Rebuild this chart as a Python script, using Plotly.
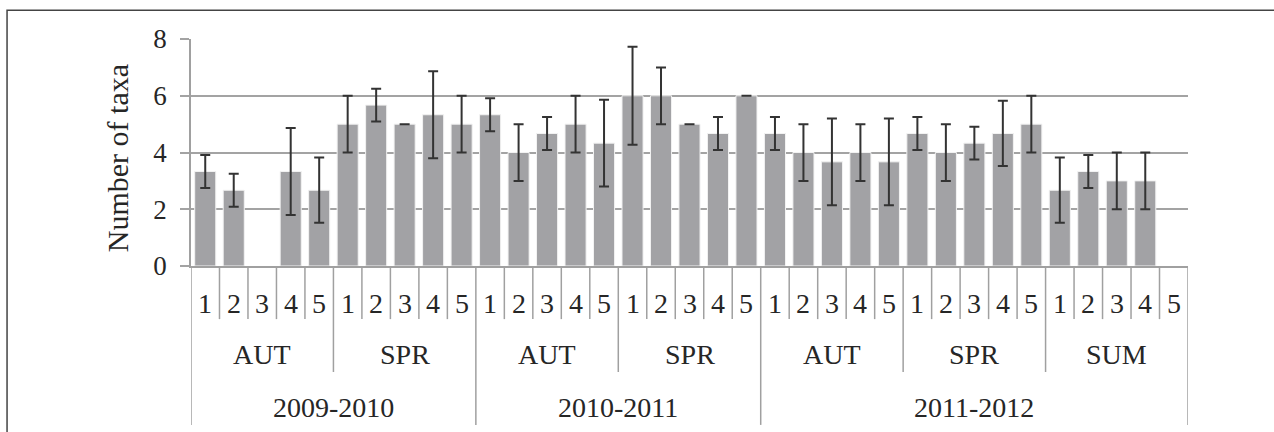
import plotly.graph_objects as go

# Category hierarchy: year -> season -> site
years = ["2009-2010", "2010-2011", "2011-2012"]
year_seasons = [["AUT", "SPR"], ["AUT", "SPR"], ["AUT", "SPR", "SUM"]]
sites = ["1", "2", "3", "4", "5"]

# Mean number of taxa per site (None = no sample)
aut_0910 = [3.33, 2.67, None, 3.33, 2.67]
spr_0910 = [5.0, 5.67, 5.0, 5.33, 5.0]
aut_1011 = [5.33, 4.0, 4.67, 5.0, 4.33]
spr_1011 = [6.0, 6.0, 5.0, 4.67, 6.0]
aut_1112 = [4.67, 4.0, 3.67, 4.0, 3.67]
spr_1112 = [4.67, 4.0, 4.33, 4.67, 5.0]
sum_1112 = [2.67, 3.33, 3.0, 3.0, None]

# Standard deviations
sd_aut_0910 = [0.58, 0.58, None, 1.53, 1.15]
sd_spr_0910 = [1.0, 0.58, 0.0, 1.53, 1.0]
sd_aut_1011 = [0.58, 1.0, 0.58, 1.0, 1.53]
sd_spr_1011 = [1.73, 1.0, 0.0, 0.58, 0.0]
sd_aut_1112 = [0.58, 1.0, 1.53, 1.0, 1.53]
sd_spr_1112 = [0.58, 1.0, 0.58, 1.15, 1.0]
sd_sum_1112 = [1.15, 0.58, 1.0, 1.0, None]

means = aut_0910 + spr_0910 + aut_1011 + spr_1011 + aut_1112 + spr_1112 + sum_1112
sds = (sd_aut_0910 + sd_spr_0910 + sd_aut_1011 + sd_spr_1011
       + sd_aut_1112 + sd_spr_1112 + sd_sum_1112)

n = len(means)
xs = list(range(n))

FONT = "Liberation Serif, Times New Roman, serif"
FS_X = 28
FS_YT = 27
FS_TITLE = 30
TXT = "#262626"
GRID = "#a3a3a3"
LINE = "#a0a0a0"

fig = go.Figure()
fig.add_trace(go.Bar(
    x=xs,
    y=means,
    marker=dict(color="#a2a2a5", line=dict(color="#f2f2f2", width=1)),
    error_y=dict(type="data", array=sds,
                 visible=True, color="#333333", thickness=2, width=5),
    width=0.74,
    hoverinfo="skip",
))

shapes = []
annotations = []

# hierarchical category axis drawn below the plot
lvl1_bottom = -0.234
lvl2_bottom = -0.467
lvl3_bottom = -0.700


def label(x, y, text):
    return dict(x=x, y=y, xref="x", yref="paper", text=text, showarrow=False,
                font=dict(family=FONT, size=FS_X, color=TXT),
                xanchor="center", yanchor="middle")


season_bounds = []
year_bounds = [0]
idx = 0
for yi, yname in enumerate(years):
    start_year = idx
    for s in year_seasons[yi]:
        start = idx
        for site in sites:
            annotations.append(label(idx, -0.165, site))
            idx += 1
        season_bounds.append(start)
        annotations.append(label((start + idx - 1) / 2, -0.392, s))
    year_bounds.append(idx)
    annotations.append(label((start_year + idx - 1) / 2, -0.622, yname))

for b in range(n + 1):
    if b in year_bounds:
        bottom = lvl3_bottom
    elif b in season_bounds:
        bottom = lvl2_bottom
    else:
        bottom = lvl1_bottom
    shapes.append(dict(type="line", xref="x", yref="paper",
                       x0=b - 0.5, x1=b - 0.5, y0=0, y1=bottom,
                       line=dict(color=LINE, width=1.5)))

# outer frame
shapes.append(dict(type="rect", xref="paper", yref="paper",
                   x0=-0.1845, x1=1.2, y0=-1.0, y1=1.1265,
                   line=dict(color="#444444", width=1.5), layer="below"))

# y-axis title
annotations.append(dict(x=-0.0742, y=0.475, xref="paper", yref="paper",
                        text="Number of taxa", textangle=-90, showarrow=False,
                        font=dict(family=FONT, size=FS_TITLE, color=TXT),
                        xanchor="center", yanchor="middle"))

fig.update_layout(
    width=1274, height=432,
    margin=dict(l=191, r=86, t=39, b=166),
    paper_bgcolor="white", plot_bgcolor="white",
    showlegend=False,
    shapes=shapes,
    annotations=annotations,
)
fig.update_xaxes(range=[-0.5, n - 0.5], showticklabels=False, ticks="",
                 showgrid=False, zeroline=False,
                 showline=True, linecolor=LINE, linewidth=1.5)
fig.update_yaxes(range=[0, 8], dtick=2, tick0=0,
                 showgrid=True, gridcolor=GRID, gridwidth=1.5,
                 zeroline=False, showline=True, linecolor=LINE, linewidth=1.5,
                 ticks="outside", ticklen=9, tickcolor=GRID, tickwidth=1.5,
                 ticklabelstandoff=8,
                 tickfont=dict(family=FONT, size=FS_YT, color=TXT))

fig.write_html("out.html")
